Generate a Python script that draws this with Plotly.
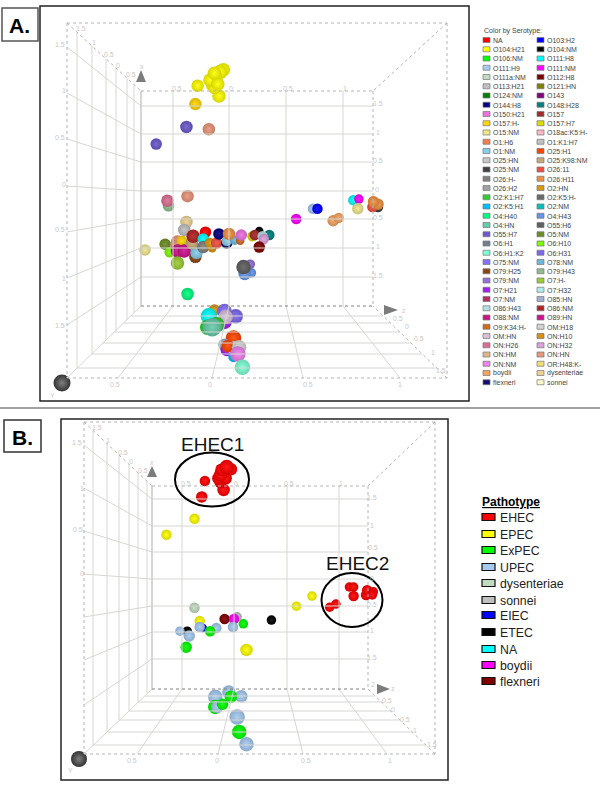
import plotly.graph_objects as go

# ---------- Panel A legend ----------
serotypes = ["NA","O103:H2","O104:H21","O104:NM","O106:NM","O111:H8","O111:H9","O111:NM",
 "O111a:NM","O112:H8","O113:H21","O121:HN","O124:NM","O143","O144:H8","O148:H28",
 "O150:H21","O157","O157:H-","O157:H7","O15:NM","O18ac:K5:H-","O1:H6","O1:K1:H7",
 "O1:NM","O25:H1","O25:HN","O25:K98:NM","O25:NM","O26:11","O26:H-","O26:H11",
 "O26:H2","O2:HN","O2:K1:H7","O2:K5:H-","O2:K5:H1","O2:NM","O4:H40","O4:H43",
 "O4:HN","O55:H6","O55:H7","O5:NM","O6:H1","O6:H10","O6:H1:K2","O6:H31",
 "O75:NM","O78:NM","O79:H25","O79:H43","O79:NM","O7:H-","O7:H21","O7:H32",
 "O7:NM","O85:HN","O86:H43","O86:NM","O88:NM","O89:HN","O9:K34:H-","OM:H18",
 "OM:HN","ON:H10","ON:H26","ON:H32","ON:HM","ON:HN","ON:NM","OR:H48:K-",
 "boydii","dysenteriae","flexneri","sonnei"]
serotype_colors = ["#ff0000","#0000ff","#ffff00","#000000","#00ff00","#00ffff","#a6caf0","#ff00ff",
 "#c0dcc0","#800000","#c0c0c0","#808000","#008000","#800080","#000080","#008080",
 "#ee70e0","#a52a2a","#ffd700","#dcdc00","#f0e68c","#ffb6c1","#f08050","#c0c0c0",
 "#87ceeb","#ff4500","#c8c8c8","#c8a878","#404040","#f05040","#808080","#f09040",
 "#a0a0a0","#d89810","#32cd32","#696969","#00bfff","#00c0c0","#00ff7f","#6495ed",
 "#66cdaa","#606060","#6a5acd","#6b8e23","#708090","#7cfc00","#7fffd4","#7b68ee",
 "#8470ff","#6cb8e0","#8b4513","#8fbc8f","#9370db","#9acd32","#a020f0","#afeeee",
 "#b03060","#a0b0d0","#b0e0e6","#b22222","#c71585","#d01090","#d2691e","#d3d3d3",
 "#d8bfd8","#d89010","#db7093","#dda0dd","#deb887","#e9967a","#ee82ee","#f0e070",
 "#f4a460","#eed090","#101070","#fafac8"]

# ---------- Panel A data (drawing order, rear first) ----------
a_serotype = ["O104:H21","O104:H21","O104:H21","O104:H21","O104:H21","O104:H21","O104:H21","O104:H21","O104:H21","O104:H21","O104:H21","O157:H-",
 "O55:H7","O55:H7","ON:HN","ON:HN","O79:H43","ON:H26",
 "O15:NM","O5:NM","O6:H10","ON:HN","ON:HN","O157:H-","O106:NM","O79:H25","O88:NM","O89:HN","O1:NM",
 "dysenteriae","O113:H21","O25:K98:NM","O86:NM","NA","O111:H8","O26:H-","ON:H10","O2:HN","O26:11",
 "flexneri","O144:H8","O1:NM","O78:NM","O9:K34:H-","O26:H11","O150:H21","O157:H7","O104:NM","O157",
 "O148:H28","O86:H43","ON:H32","O112:H8","O7:H-",
 "O79:NM","O4:H43","O4:H43","O55:H6","O4:H40",
 "O111:NM","O111:H9","O103:H2","boydii","boydii","O111:H8","O111:NM","O15:NM",
 "O25:NM","O26:11","O26:H11","O26:H11",
 "O2:HN","O75:NM","O6:H31","O111:H8","O7:H21","OM:HN","O2:K1:H7","O2:K1:H7","O4:HN",
 "O25:H1","O85:HN","O7:H21","O7:H32","O25:H1","OM:H18","O2:K5:H1","ON:NM","O6:H1:K2"]
a_z = [-0.09,-0.05,-0.08,-0.12,-0.14,-0.15,-0.13,-0.17,-0.10,-0.13,-0.28,-0.30,
 -0.38,-0.65,-0.18,-0.37,-0.54,-0.55,
 -0.75,-0.57,-0.53,-0.46,-0.47,-0.42,-0.33,-0.30,-0.46,-0.40,-0.29,
 -0.38,-0.40,-0.33,-0.32,-0.21,-0.23,-0.23,-0.15,-0.17,-0.11,
 -0.02,-0.09,-0.02,0.05,0.10,0.00,0.11,0.21,0.27,0.23,
 0.36,0.30,0.31,0.27,-0.46,
 0.19,0.20,0.14,0.13,-0.37,
 0.60,0.75,0.79,0.93,0.98,1.11,1.16,1.15,
 1.33,1.28,1.33,1.29,
 -0.13,-0.04,0.06,-0.18,-0.04,-0.03,-0.11,-0.19,-0.15,
 0.04,-0.04,-0.02,0.04,-0.01,0.09,0.04,0.08,0.12]
a_y = [1.66,2.12,2.08,2.01,1.94,1.85,1.80,1.94,1.87,2.06,1.84,1.52,
 1.12,0.82,1.08,-0.09,-0.26,-0.17,
 -1.03,-0.93,-1.07,-0.89,-0.96,-0.87,-1.03,-1.15,-1.05,-1.05,-1.08,
 -0.54,-0.68,-0.91,-0.79,-0.72,-0.84,-0.98,-1.00,-0.91,-0.91,
 -0.91,-0.75,-0.87,-0.86,-0.87,-0.75,-0.77,-0.79,-0.70,-0.77,
 -0.77,-0.79,-0.84,-0.98,-1.26,
 -1.28,-1.43,-1.45,-1.33,-1.80,
 -0.49,-0.31,-0.31,-0.52,-0.47,-0.16,-0.14,-0.31,
 -0.28,-0.28,-0.23,-0.19,
 -2.08,-2.10,-2.19,-2.19,-2.29,-2.20,-2.34,-2.38,-2.38,
 -2.57,-2.69,-2.78,-2.74,-2.71,-2.73,-2.90,-2.85,-3.08]
a_depth = [0,0,0.33,0,0,-0.33,-0.33,0,0,0,-0.33,-0.33,
 -0.33,-0.67,-0.33,-0.33,-0.67,-0.33,
 -0.67,-0.67,-1,0,-0.33,-1,-1,-0.33,0,0,-0.33,
 -0.33,-0.33,-0.33,0,-0.67,-0.67,-0.33,-1.67,-1,-0.67,
 -0.67,-0.67,-1,-1.33,-1.67,-0.33,-0.67,-1,-1.67,-1,
 -1,-1,-1,-0.67,0,
 -1.33,-1.33,-0.33,0.33,-0.33,
 -1,-1,-1,-0.67,-1,-1,-1.33,-0.67,
 -1,-1,-0.67,-0.67,
 -0.67,0.33,0.33,1,0.33,0.33,0.67,0.67,1.67,
 0.67,-0.33,-0.33,0,-0.33,0.33,-1,0.67,0.67]

# ---------- Panel B data ----------
pathotypes = ["EHEC","EPEC","ExPEC","UPEC","dysenteriae","sonnei","EIEC","ETEC","NA","boydii","flexneri"]
pathotype_colors = ["#ff0000","#ffff00","#00ff00","#a6caf0","#c0dcc0","#c0c0c0","#0000ff","#000000","#00ffff","#ff00ff","#800000"]

b_pathotype = ["EHEC","EHEC","EHEC","EHEC","EHEC","EHEC","EHEC","EHEC","EHEC","EHEC","EPEC","EPEC",
 "dysenteriae","EPEC","flexneri","sonnei","boydii","ExPEC","UPEC","ETEC","EPEC",
 "ETEC","UPEC","EIEC","UPEC","UPEC","ExPEC","UPEC","ExPEC",
 "UPEC","UPEC","UPEC","ExPEC","ExPEC","UPEC","ExPEC","UPEC","ExPEC","UPEC",
 "EPEC","EPEC","EHEC","EHEC","EHEC","EHEC","EHEC","EHEC","EHEC","EHEC","EHEC"]
b_z = [-0.10,-0.13,-0.08,-0.15,-0.13,-0.12,-0.03,-0.07,-0.28,-0.31,-0.38,-0.65,
 -0.38,-0.33,-0.09,0.03,0.00,0.09,-0.01,0.36,0.12,
 -0.45,-0.52,-0.30,-0.33,-0.17,-0.23,-0.43,-0.46,
 -0.05,0.07,-0.18,-0.03,-0.18,-0.16,-0.11,0.03,0.05,0.12,
 0.75,0.60,0.98,0.92,1.11,1.15,1.15,1.27,1.28,1.34,1.33]
b_y = [1.67,1.82,1.89,1.89,1.95,2.05,2.06,2.10,1.84,1.54,1.13,0.83,
 -0.54,-0.79,-0.75,-0.71,-0.75,-0.84,-0.90,-0.77,-1.33,
 -0.98,-0.98,-0.92,-0.90,-0.92,-0.98,-1.07,-1.28,
 -2.12,-2.20,-2.21,-2.21,-2.40,-2.40,-2.35,-2.59,-2.87,-3.10,
 -0.32,-0.51,-0.47,-0.53,-0.15,-0.15,-0.32,-0.30,-0.21,-0.24,-0.30]
b_depth = [-0.33,-0.33,-0.33,-0.33,0,-0.33,-0.33,0.33,-1,-0.67,-1,-1,
 -1,-1,-1,-1.33,-1,-1.33,-1,-1.33,-0.33,
 -1.33,-1.33,-1.67,-1,-1,-1,-0.67,-0.67,
 0,-0.33,0.33,-0.33,0.33,-0.33,-0.67,0.67,0.33,0.33,
 -1.33,-1.33,-1.33,-1.33,-1.33,-1.33,-1,-1,-1,-1.33,-1.33]

# ---------- Layout constants ----------
GRID, DASH = "#d6d6d2", "#b4b4b4"
TICK = "#c8c8c8"
shapes, annos = [], []

def line(x0, y0, x1, y1, color=GRID, width=1, dash="solid"):
    shapes.append(dict(type="line", xref="x", yref="y", x0=x0, y0=y0, x1=x1, y1=y1,
                       line=dict(color=color, width=width, dash=dash)))

def rect(x0, y0, x1, y1, color="#000", width=1, fill="rgba(0,0,0,0)"):
    shapes.append(dict(type="rect", xref="x", yref="y", x0=x0, y0=y0, x1=x1, y1=y1,
                       fillcolor=fill, line=dict(color=color, width=width)))

def text(x, y, s, size=8, color=TICK, anchor="center", family="Liberation Sans", **kw):
    annos.append(dict(xref="x", yref="y", x=x, y=y, text=s, showarrow=False, xanchor=anchor,
                      yanchor="middle", font=dict(size=size, color=color, family=family), **kw))

def tri(pts, fill="#7c7c7c"):
    path = "M" + " L".join(f"{a},{b}" for a, b in pts) + " Z"
    shapes.append(dict(type="path", xref="x", yref="y", path=path, fillcolor=fill, line=dict(width=0)))

def room(L, T, R, B, OL, OT, OR, OB, wall_x, foot_x, back_y, left_y, side_x, floor_y):
    for x, f in zip(wall_x, foot_x):
        line(x, T, x, B)
        line(x, B, f, OB)
    for y, l in zip(back_y, left_y):
        line(L, y, R, y)
        line(OL, l, L, y)
    for x in side_x:
        top = T - (L - x) * (T - OT) / (L - OL)
        bot = B + (L - x) * (OB - B) / (L - OL)
        line(x, top, x, bot)
    for y in floor_y:
        k = (y - B) / (OB - B)
        line(L - k * (L - OL), y, R + k * (OR - R), y)
    line(L, T, L, B, color="#c8c8c8", width=1.5)
    # dashed cage
    for a in [(OL, OT, OR, OT), (OL, OT, OL, OB), (OL, OB, OR, OB), (OR, OT, OR, OB),
              (L, T, R, T), (R, T, R, B), (OL, OT, L, T), (OR, OT, R, T), (OR, OB, R, B)]:
        line(*a, color=DASH, dash="dot")
    line(OL, OB, L, B, color=GRID)
    line(L, B, R, B, color="#808080", dash="dot")

# --- panel A decoration
rect(40, 6, 469, 401, color="#222", width=1.5)
room(141, 91, 373, 306, 67, 23, 447, 378,
     [173, 229, 286, 343], [118, 212, 303, 400],
     [106, 134, 162, 191, 219, 248, 277], [47, 93, 139, 186, 232, 278, 325],
     [77, 92, 106, 116, 127, 134], [316, 323, 332, 343, 354, 368])
tri([(136, 82), (146, 82), (141, 70)])
tri([(384, 305), (384, 315), (398, 310)])
text(142, 66, "x", 7)
text(404, 310, "z", 7)
text(52, 395, "Y", 7)
for x, y, s in [(60, 44, "1.5"), (64, 90, "1"), (60, 137, "0.5"), (64, 184, "0"), (60, 229, "0.5"), (64, 278, "1"), (60, 325, "1.5"),
                (81, 28, "1.5"), (94, 42, "1"), (109, 54, "0.5"), (118, 65, "0"), (131, 74, "0.5"),
                (177, 88, "0.5"), (231, 88, "0"), (288, 88, "0.5"), (345, 88, "1"),
                (378, 103, "1.5"), (378, 132, "1"), (378, 160, "0.5"), (377, 189, "0"), (378, 217, "0.5"), (378, 246, "1"), (378, 275, "1.5"),
                (115, 384, "0.5"), (210, 384, "0"), (308, 384, "0.5"), (400, 384, "1"),
                (398, 318, "0.5"), (407, 326, "0"), (419, 338, "0.5"), (433, 352, "1"), (441, 370, "1.5")]:
    text(x, y, s, 7)

# --- panel B decoration
rect(61, 419, 448, 780, color="#222", width=1.5)
room(152, 486, 368, 689, 84, 422, 435, 754,
     [182, 234, 287, 339], [137, 218, 303, 387],
     [499, 526, 552, 579, 606, 632, 659], [445, 488, 531, 574, 617, 660, 705],
     [93, 107, 119, 129, 138, 147], [696, 702, 711, 720, 732, 745])
tri([(147, 477), (157, 477), (152, 466)])
tri([(377, 684), (377, 694), (390, 689)])
text(152, 462, "x", 7)
text(393, 688, "z", 7)
text(70, 770, "Y", 7)
for x, y, s in [(77, 442, "1.5"), (82, 488, "1"), (78, 529, "0.5"), (82, 573, "0"),
                (97, 427, "1.5"), (108, 440, "1"), (123, 452, "0.5"), (131, 461, "0"), (143, 470, "0.5"),
                (186, 483, "0.5"), (236, 483, "0"), (289, 483, "0.5"), (341, 483, "1"),
                (372, 497, "1.5"), (372, 525, "1"), (373, 547, "0.5"), (372, 578, "0"), (372, 604, "0.5"), (372, 630, "1"), (372, 657, "1.5"), (373, 684, "2"),
                (132, 760, "0.5"), (217, 760, "0"), (306, 760, "0.5"), (390, 760, "1"),
                (387, 700, "0.5"), (393, 709, "0"), (405, 719, "0.5"), (415, 730, "1"), (432, 744, "1.5")]:
    text(x, y, s, 7)

# --- section rule and tags
line(0, 408, 600, 408, color="#444", width=1.2)
rect(2, 8, 38, 41, color="#555", width=1.5)
text(19, 25, "<b>A.</b>", 21, "#000")
rect(4, 420, 41, 452, color="#333", width=1.5)
text(22, 437, "<b>B.</b>", 21, "#000")

# --- panel A legend
text(482, 31, "Color by Serotype:", 7, "#444", anchor="left")
for i, (name, col) in enumerate(zip(serotypes, serotype_colors)):
    row, c = i // 2, i % 2
    y = 40 + row * 9.25
    x0 = 483 if c == 0 else 537
    rect(x0, y - 2.5, x0 + 7, y + 2.5, color="#777", width=0.7, fill=col)
    text(x0 + 8, y + 0.3, name, 7, "#444", anchor="left")

# --- panel B legend
text(480, 502, "<b><u>Pathotype</u></b>", 12, "#000", anchor="left")
leg_y = [517, 534, 550, 567, 583, 600, 615, 632, 649, 665, 681]
for y, name, col in zip(leg_y, pathotypes, pathotype_colors):
    rect(482, y - 3.5, 495, y + 3.5, color="#111", width=1.2, fill=col)
    text(498, y + 0.5, name, 12.3, "#222", anchor="left")

# --- annotations on panel B
text(212, 444, "EHEC1", 19, "#111")
text(357, 563, "EHEC2", 19, "#111")
for cx, cy, rx, ry in [(212, 479.5, 37, 27), (352, 600, 30.5, 27)]:
    shapes.append(dict(type="circle", xref="x", yref="y", x0=cx - rx, x1=cx + rx, y0=cy - ry, y1=cy + ry,
                       line=dict(color="#000", width=2), layer="above"))

# ---------- Figure ----------
def mix(c, t, k):
    c = [int(c[i:i + 2], 16) for i in (1, 3, 5)]
    return "#" + "".join(f"{round(a + (t - a) * k):02x}" for a in c)

def sphere_trace(z, y, depth, colors, xa, ya):
    # plotly's gradient.color is the centre of a radial fill, marker.color its rim;
    # an array of sizes would otherwise default to 70% opacity
    return go.Scatter(x=z, y=y, xaxis=xa, yaxis=ya, mode="markers", hoverinfo="skip", showlegend=False,
                      marker=dict(size=[13.5 + 3 * d for d in depth], opacity=1,
                                  color=[mix(c, 0, 0.16) for c in colors],
                                  gradient=dict(type="radial", color=[mix(c, 255, 0.1) for c in colors]),
                                  line=dict(width=0)))

a_lookup = dict(zip(serotypes, serotype_colors))
b_lookup = dict(zip(pathotypes, pathotype_colors))
fig = go.Figure()
fig.add_trace(sphere_trace(a_z, a_y, a_depth, [a_lookup[s] for s in a_serotype], "x2", "y2"))
fig.add_trace(sphere_trace(b_z, b_y, b_depth, [b_lookup[s] for s in b_pathotype], "x3", "y3"))
# corner orbs of the two 3-D views
fig.add_trace(go.Scatter(x=[62, 79], y=[383, 759], xaxis="x", yaxis="y", mode="markers", hoverinfo="skip", showlegend=False,
                         marker=dict(size=[17, 16], opacity=1, color="#333333",
                                     gradient=dict(type="radial", color="#808080"), line=dict(width=0))))

def panel_axes(px0, px1, py0, py1, ox, oy, sx, sy):
    xa = dict(domain=[px0 / 600, px1 / 600], range=[(px0 - ox) / sx, (px1 - ox) / sx], visible=False, fixedrange=True)
    ya = dict(domain=[1 - py1 / 800, 1 - py0 / 800], range=[(oy - py1) / sy, (oy - py0) / sy], visible=False, fixedrange=True)
    return xa, ya

xa2, ya2 = panel_axes(41, 468, 7, 400, 229, 191, 112, 57.2)
xa3, ya3 = panel_axes(62, 447, 420, 779, 234, 579, 104, 53.3)
xa2["anchor"], ya2["anchor"] = "y2", "x2"
xa3["anchor"], ya3["anchor"] = "y3", "x3"

fig.update_layout(
    width=600, height=800, margin=dict(l=0, r=0, t=0, b=0), autosize=False,
    paper_bgcolor="white", plot_bgcolor="rgba(0,0,0,0)", showlegend=False,
    font=dict(family="Liberation Sans"),
    xaxis=dict(domain=[0, 1], range=[0, 600], visible=False, fixedrange=True),
    yaxis=dict(domain=[0, 1], range=[800, 0], visible=False, fixedrange=True),
    xaxis2=xa2, yaxis2=ya2, xaxis3=xa3, yaxis3=ya3,
    shapes=shapes, annotations=annos,
)
fig.write_html("out.html", config={"displayModeBar": False},
               post_script="document.body.style.margin='0';document.documentElement.style.overflow='hidden';")
